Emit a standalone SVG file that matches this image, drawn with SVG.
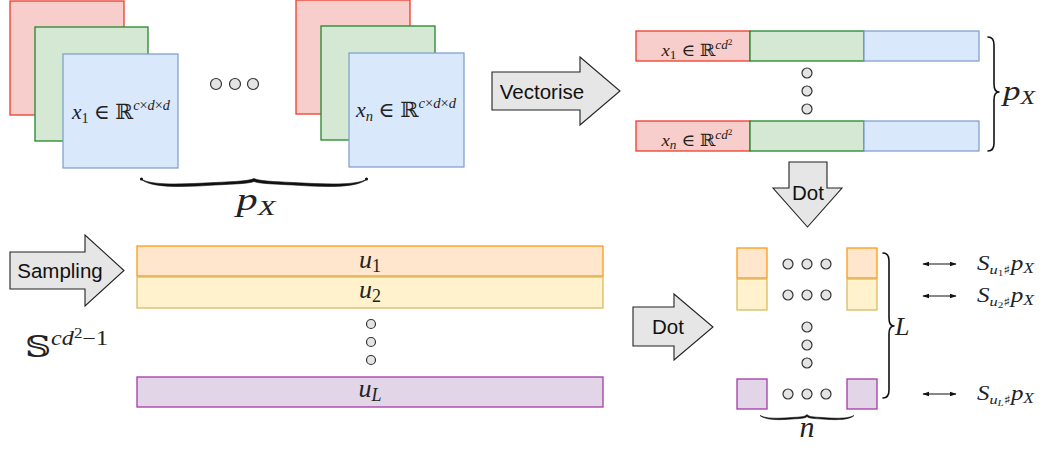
<svg xmlns="http://www.w3.org/2000/svg" width="1050" height="451" viewBox="0 0 1050 451">
<defs>
<style>
.arrow{fill:#e6e6e6;stroke:#222;stroke-width:1.1}
.lbl{font-family:"Liberation Sans",Arial,sans-serif;font-size:20.5px;fill:#111}
.m{font-family:"Liberation Serif","DejaVu Serif",serif;font-style:italic;fill:#222}
.up{font-style:normal}
.bb{font-family:"DejaVu Serif","DejaVu Sans",serif;font-style:normal}
.dot{fill:#e4e4e4;stroke:#333;stroke-width:1.2}
.red{fill:#f8cecc;stroke:#ee3b2b;stroke-width:1.3}
.green{fill:#d5e8d4;stroke:#23872a;stroke-width:1.3}
.blue{fill:#dae8fc;stroke:#7b9ccc;stroke-width:1.2}
.orange{fill:#ffe6cc;stroke:#ff9a14;stroke-width:1.3}
.yellow{fill:#fff2cc;stroke:#d6b656;stroke-width:1.2}
.purple{fill:#e1d5e7;stroke:#a33aa6;stroke-width:1.3}
.brace{fill:none;stroke:#111;stroke-width:1.6;stroke-linecap:round;stroke-linejoin:round}
.hbrace{fill:#111;stroke:#111;stroke-width:0.6;stroke-linejoin:round}
.dbl{stroke:#111;stroke-width:1.2;fill:none}
</style>
<marker id="ah" viewBox="0 0 10 10" refX="9" refY="5" markerWidth="7" markerHeight="7" markerUnits="userSpaceOnUse" orient="auto-start-reverse">
<path d="M0,1.5 L10,5 L0,8.5 Z" fill="#111"/>
</marker>
</defs>

<g id="stack1">
<rect class="red" x="10" y="1" width="114" height="114"/>
<rect class="green" x="35" y="27" width="113" height="114"/>
<rect class="blue" x="63" y="54" width="115" height="114"/>
<text class="m" x="121" y="119" text-anchor="middle" font-size="21" textLength="98" lengthAdjust="spacingAndGlyphs">x<tspan class="up" font-size="14" dy="4">1</tspan><tspan class="up" dy="-4"> ∈ </tspan><tspan class="bb">ℝ</tspan><tspan font-size="14" dy="-9">c</tspan><tspan class="up" font-size="14">×</tspan><tspan font-size="14">d</tspan><tspan class="up" font-size="14">×</tspan><tspan font-size="14">d</tspan></text>
</g>

<g id="dots-top">
<circle class="dot" cx="216" cy="84" r="5.5"/>
<circle class="dot" cx="235" cy="84" r="5.5"/>
<circle class="dot" cx="253" cy="84" r="5.5"/>
</g>

<g id="stackn">
<rect class="red" x="296" y="0" width="114" height="114"/>
<rect class="green" x="321" y="26" width="114" height="114"/>
<rect class="blue" x="349" y="53" width="115" height="114"/>
<text class="m" x="406" y="117" text-anchor="middle" font-size="21" textLength="100" lengthAdjust="spacingAndGlyphs">x<tspan font-size="14" dy="4">n</tspan><tspan class="up" dy="-4"> ∈ </tspan><tspan class="bb">ℝ</tspan><tspan font-size="14" dy="-9">c</tspan><tspan class="up" font-size="14">×</tspan><tspan font-size="14">d</tspan><tspan class="up" font-size="14">×</tspan><tspan font-size="14">d</tspan></text>
</g>

<g id="brace-px">
<path class="hbrace" d="M141,179 C152,186 185,184 215,182.5 C236,181.5 249,181 254,178.5 C259,181 272,181.5 293,182.5 C323,184 356,186 367,179 C357,188.5 323,187 293,185 C272,184 259,183.5 254,181.5 C249,183.5 236,184 215,185 C185,187 151,188.5 141,179 Z"/>
<circle cx="141.5" cy="179" r="1.6" fill="#111"/>
<circle cx="366.5" cy="179" r="1.6" fill="#111"/>
<text class="m" x="256" y="210" text-anchor="middle" font-size="32" textLength="39" lengthAdjust="spacingAndGlyphs">p<tspan font-size="22" dy="5">X</tspan></text>
</g>

<g id="vectorise">
<polygon class="arrow" points="492,72 580,72 580,57 620,91 580,125 580,110 492,110"/>
<text class="lbl" x="542" y="99" text-anchor="middle">Vectorise</text>
</g>

<g id="vec1">
<rect class="red" x="636" y="31" width="114" height="30"/>
<rect class="green" x="750" y="31" width="114" height="30"/>
<rect class="blue" x="864" y="31" width="115" height="30"/>
<text class="m" x="697" y="55.5" text-anchor="middle" font-size="17" textLength="71" lengthAdjust="spacingAndGlyphs">x<tspan class="up" font-size="12" dy="3">1</tspan><tspan class="up" dy="-3"> ∈ </tspan><tspan class="bb">ℝ</tspan><tspan font-size="12" dy="-7">cd</tspan><tspan class="up" font-size="8.5" dy="-4">2</tspan></text>
</g>

<g id="vec-dots">
<circle class="dot" cx="807" cy="73" r="5"/>
<circle class="dot" cx="807" cy="91" r="5"/>
<circle class="dot" cx="807" cy="109" r="5"/>
</g>

<g id="vecn">
<rect class="red" x="636" y="121" width="114" height="30"/>
<rect class="green" x="750" y="121" width="114" height="30"/>
<rect class="blue" x="864" y="121" width="115" height="30"/>
<text class="m" x="697" y="145.5" text-anchor="middle" font-size="17" textLength="71" lengthAdjust="spacingAndGlyphs">x<tspan font-size="12" dy="3">n</tspan><tspan class="up" dy="-3"> ∈ </tspan><tspan class="bb">ℝ</tspan><tspan font-size="12" dy="-7">cd</tspan><tspan class="up" font-size="8.5" dy="-4">2</tspan></text>
</g>

<g id="brace-px-right">
<path class="brace" d="M988,37 Q994,37 994,45 L994,84 Q994,92 999,92 Q994,92 994,100 L994,143 Q994,151 988,151"/>
<text class="m" x="1003" y="100" font-size="28" textLength="32" lengthAdjust="spacingAndGlyphs">p<tspan font-size="19" dy="4">X</tspan></text>
</g>

<g id="dot-down">
<polygon class="arrow" points="789,162 827,162 827,188 842,188 807.5,227 773,188 789,188"/>
<text class="lbl" x="808" y="200" text-anchor="middle">Dot</text>
</g>

<g id="sampling">
<polygon class="arrow" points="10,252 85,252 85,235 124,270.5 85,306 85,289 10,289"/>
<text class="lbl" x="60" y="278" text-anchor="middle">Sampling</text>
</g>

<g id="sphere">
<text class="m" x="25" y="357" font-size="30" textLength="83" lengthAdjust="spacingAndGlyphs"><tspan class="bb">𝕊</tspan><tspan font-size="20" dy="-12">cd</tspan><tspan class="up" font-size="14" dy="-7">2</tspan><tspan class="up" font-size="20" dy="7">−1</tspan></text>
</g>

<g id="u1">
<rect class="orange" x="137" y="246" width="466" height="30"/>
<text class="m" x="370" y="268" text-anchor="middle" font-size="26">u<tspan class="up" font-size="18" dy="4">1</tspan></text>
</g>
<g id="u2">
<rect class="yellow" x="137" y="277" width="466" height="31"/>
<text class="m" x="370" y="298" text-anchor="middle" font-size="26">u<tspan class="up" font-size="18" dy="4">2</tspan></text>
</g>
<g id="u-dots">
<circle class="dot" cx="371" cy="324" r="4.5"/>
<circle class="dot" cx="371" cy="342" r="4.5"/>
<circle class="dot" cx="371" cy="360" r="4.5"/>
</g>
<g id="uL">
<rect class="purple" x="137" y="377" width="466" height="30"/>
<text class="m" x="370" y="397" text-anchor="middle" font-size="26">u<tspan font-size="18" dy="4">L</tspan></text>
</g>

<g id="dot-right">
<polygon class="arrow" points="633,307 674,307 674,294 713,327 674,360 674,346 633,346"/>
<text class="lbl" x="668" y="334" text-anchor="middle">Dot</text>
</g>

<g id="matrix">
<rect class="orange" x="737" y="248" width="30" height="30"/>
<rect class="orange" x="847" y="248" width="30" height="30"/>
<rect class="yellow" x="737" y="279" width="30" height="31"/>
<rect class="yellow" x="847" y="279" width="30" height="31"/>
<rect class="purple" x="737" y="379" width="30" height="30"/>
<rect class="purple" x="847" y="379" width="30" height="30"/>
<circle class="dot" cx="788" cy="264" r="5"/>
<circle class="dot" cx="807" cy="264" r="5"/>
<circle class="dot" cx="826" cy="264" r="5"/>
<circle class="dot" cx="788" cy="295" r="5"/>
<circle class="dot" cx="807" cy="295" r="5"/>
<circle class="dot" cx="826" cy="295" r="5"/>
<circle class="dot" cx="807" cy="327" r="5"/>
<circle class="dot" cx="807" cy="345" r="5"/>
<circle class="dot" cx="807" cy="363" r="5"/>
<circle class="dot" cx="788" cy="394" r="5"/>
<circle class="dot" cx="807" cy="394" r="5"/>
<circle class="dot" cx="826" cy="394" r="5"/>
</g>

<g id="brace-L">
<path class="brace" d="M883,253 Q889,253 889,261 L889,318 Q889,326 894,326 Q889,326 889,334 L889,390 Q889,398 883,398"/>
<text class="m" x="895" y="335" font-size="26">L</text>
</g>

<g id="brace-n">
<path class="hbrace" d="M760,415.5 C766,419 780,418.5 792,417.5 C800,417 805,417 807,414.5 C809,417 814,417 822,417.5 C834,418.5 848,419 854,415.5 C849,420.5 834,420 822,419 C814,418.5 809,418.5 807,416.5 C805,418.5 800,418.5 792,419 C780,420 766,420.5 760,415.5 Z"/>
<text class="m" x="807" y="437" text-anchor="middle" font-size="30">n</text>
</g>

<g id="connectors">
<line class="dbl" x1="923" y1="264" x2="956" y2="264" marker-start="url(#ah)" marker-end="url(#ah)"/>
<line class="dbl" x1="923" y1="296" x2="956" y2="296" marker-start="url(#ah)" marker-end="url(#ah)"/>
<line class="dbl" x1="923" y1="394" x2="956" y2="394" marker-start="url(#ah)" marker-end="url(#ah)"/>
</g>

<g id="s1">
<text class="m" x="977" y="270" font-size="20" textLength="57" lengthAdjust="spacingAndGlyphs">S<tspan font-size="13" dy="4">u</tspan><tspan class="up" font-size="9" dy="2">1</tspan><tspan class="bb" font-size="12" dy="-2">♯</tspan><tspan dy="-4">p</tspan><tspan font-size="14" dy="3">X</tspan></text>
</g>
<g id="s2">
<text class="m" x="977" y="302" font-size="20" textLength="57" lengthAdjust="spacingAndGlyphs">S<tspan font-size="13" dy="4">u</tspan><tspan class="up" font-size="9" dy="2">2</tspan><tspan class="bb" font-size="12" dy="-2">♯</tspan><tspan dy="-4">p</tspan><tspan font-size="14" dy="3">X</tspan></text>
</g>
<g id="sL">
<text class="m" x="977" y="400" font-size="20" textLength="57" lengthAdjust="spacingAndGlyphs">S<tspan font-size="13" dy="4">u</tspan><tspan font-size="9" dy="2">L</tspan><tspan class="bb" font-size="12" dy="-2">♯</tspan><tspan dy="-4">p</tspan><tspan font-size="14" dy="3">X</tspan></text>
</g>
</svg>
